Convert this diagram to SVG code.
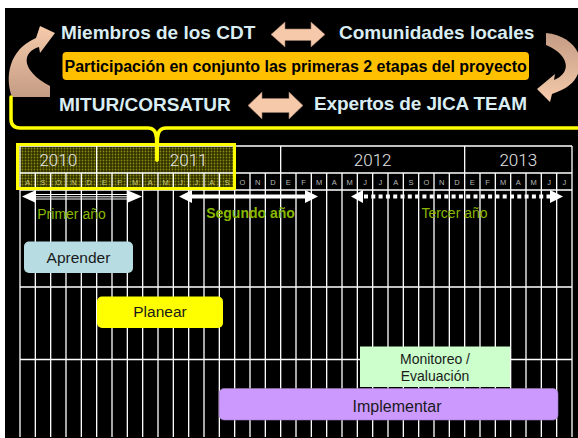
<svg xmlns="http://www.w3.org/2000/svg" width="578" height="438" viewBox="0 0 578 438">
<style>
.top{font-family:"Liberation Sans",Arial,sans-serif;font-weight:bold;font-size:19px;fill:#d9edf2}
.yr{font-family:Roboto,"Liberation Sans",sans-serif;font-weight:300;font-size:17px;fill:#e6e6e6;text-anchor:middle}
.mo{font-family:"Liberation Sans",Arial,sans-serif;font-size:7.5px;fill:#b8b8b8;text-anchor:middle}
.moh{fill:#c8c878}
.lbl{font-family:"Liberation Sans",Arial,sans-serif;font-size:14px;fill:#8ab800;text-anchor:middle}
.bar{font-family:"Liberation Sans",Arial,sans-serif;fill:#1a1a1a;text-anchor:middle}
.grid{stroke:#ffffff;stroke-width:1.3;fill:none}
.pa{fill:#f5c9aa;stroke:#9a7b68;stroke-width:0.6}
</style>
<defs>
<pattern id="dots" width="3" height="3" patternUnits="userSpaceOnUse">
<rect width="3" height="3" fill="#303000"/>
<circle cx="1.5" cy="1.5" r="0.9" fill="#8a8a10"/>
</pattern>
<linearGradient id="gL" x1="0" y1="0" x2="0" y2="1">
<stop offset="0" stop-color="#f6cbab"/>
<stop offset="1" stop-color="#c49c84"/>
</linearGradient>
<linearGradient id="gR" x1="0" y1="0" x2="0" y2="1">
<stop offset="0" stop-color="#c49c84"/>
<stop offset="1" stop-color="#f6cbab"/>
</linearGradient>
</defs>
<rect x="0" y="0" width="578" height="438" fill="#ffffff"/>
<rect x="5" y="8" width="573" height="430" fill="#000000"/>

<!-- top section -->
<g id="curved-left"><path d="M12,97 C5,78 8,50 36,38 L40,26 L55,33 L40,53 L39,47 C22,52 20,70 50,86 L50,97 Z" fill="url(#gL)"/></g>
<g id="curved-right"><path d="M546,33 C568,35 582,50 580,66 C578,80 570,88 552,94 L550,102 L537,89 L555,74 L554,80 C570,74 572,56 546,45 Z" fill="url(#gR)"/></g>
<g id="n-cdt"><text class="top" x="61" y="38.5">Miembros de los CDT</text></g>
<g id="n-com"><text class="top" x="339" y="38.5">Comunidades locales</text></g>
<g id="n-mitur"><text class="top" x="59" y="111">MITUR/CORSATUR</text></g>
<g id="n-jica"><text class="top" x="314" y="110" textLength="213">Expertos de JICA TEAM</text></g>
<g id="arrow-top"><polygon class="pa" points="271,34.5 285,22 285,29 311,29 311,22 325,34.5 311,47 311,40.5 285,40.5 285,47"/></g>
<g id="arrow-bottom"><polygon class="pa" points="248,105.5 262,92 262,98.5 289,98.5 289,92 303,105.5 289,119 289,112.5 262,112.5 262,119"/></g>
<g id="n-part">
<rect x="62.5" y="52" width="466.5" height="28" rx="4" fill="#ffc000"/>
<text x="295.7" y="71.5" font-family="Liberation Sans,Arial,sans-serif" font-weight="bold" font-size="16" fill="#000" text-anchor="middle">Participación en conjunto las primeras 2 etapas del proyecto</text>
</g>

<!-- highlight fill -->
<rect x="17.5" y="144.5" width="217" height="44" fill="url(#dots)"/>

<!-- grid -->
<g id="grid" class="grid">
<path d="M20,146 H572 M20,173 H572 M20,190 H572 M20,287 H572 M20,359.5 H572"/>
<path d="M20,146 V437 M572,146 V437 M96.67,146 V437 M280.67,146 V437 M464.67,146 V437"/>
<path d="M35.33,173 V437 M50.67,173 V437 M66,173 V437 M81.33,173 V437 M112,173 V437 M127.33,173 V437 M142.67,173 V437 M158,173 V437 M173.33,173 V437 M188.67,173 V437 M204,173 V437 M219.33,173 V437 M234.67,173 V437 M250,173 V437 M265.33,173 V437 M296,173 V437 M311.33,173 V437 M326.67,173 V437 M342,173 V437 M357.33,173 V437 M372.67,173 V437 M388,173 V437 M403.33,173 V437 M418.67,173 V437 M434,173 V437 M449.33,173 V437 M480,173 V437 M495.33,173 V437 M510.67,173 V437 M526,173 V437 M541.33,173 V437 M556.67,173 V437"/>
</g>

<!-- years -->
<g id="years">
<text class="yr" x="58.3" y="166" fill="#e8e8c8">2010</text>
<text class="yr" x="188.7" y="166">2011</text>
<text class="yr" x="372.7" y="166">2012</text>
<text class="yr" x="518.3" y="166">2013</text>
</g>
<g id="months">
<g class="mo moh">
<text x="27.67" y="185">A</text><text x="43" y="185">S</text><text x="58.33" y="185">O</text><text x="73.67" y="185">N</text><text x="89" y="185">D</text><text x="104.33" y="185">E</text><text x="119.67" y="185">F</text><text x="135" y="185">M</text><text x="150.33" y="185">A</text><text x="165.67" y="185">M</text><text x="181" y="185">J</text><text x="196.33" y="185">J</text><text x="211.67" y="185">A</text><text x="227" y="185">S</text>
</g>
<g class="mo">
<text x="242.33" y="185">O</text><text x="257.67" y="185">N</text><text x="273" y="185">D</text><text x="288.33" y="185">E</text><text x="303.67" y="185">F</text><text x="319" y="185">M</text><text x="334.33" y="185">A</text><text x="349.67" y="185">M</text><text x="365" y="185">J</text><text x="380.33" y="185">J</text><text x="395.67" y="185">A</text><text x="411" y="185">S</text><text x="426.33" y="185">O</text><text x="441.67" y="185">N</text><text x="457" y="185">D</text><text x="472.33" y="185">E</text><text x="487.67" y="185">F</text><text x="503" y="185">M</text><text x="518.33" y="185">A</text><text x="533.67" y="185">M</text><text x="549" y="185">J</text><text x="564.33" y="185">J</text>
</g>
</g>

<!-- highlight border and brace -->
<rect x="17.5" y="144.5" width="217" height="44" fill="none" stroke="#ffff00" stroke-width="3"/>
<g id="brace" fill="none" stroke="#ffff00" stroke-width="3.5" stroke-linecap="round">
<path d="M11,97 V119 Q11,128 20,128 H148 Q156,128 156.5,138 L157,160"/>
<path d="M157,160 L157.5,138 Q158,128 166,128 H580"/>
</g>

<!-- period arrows -->
<g id="connectors">
<g id="arrow-primer" fill="#ffffff">
<polygon points="22,196.5 35,190.5 35,202.5"/>
<polygon points="142,196.5 128,190.5 128,202.5"/>
<path d="M35,194.5 H128 M35,196.8 H128 M35,199 H128" stroke="#ffffff" stroke-width="1"/>
</g>
<g id="arrow-segundo" fill="#ffffff">
<polygon points="179,196.5 192,190 192,203"/>
<polygon points="318,196.5 305,190 305,203"/>
<rect x="191" y="194.5" width="115" height="4"/>
</g>
<g id="arrow-tercer" fill="#ffffff">
<polygon points="351,196.5 363,190 363,203"/>
<polygon points="563,196.5 550,190 550,203"/>
<line x1="364" y1="196.5" x2="550" y2="196.5" stroke="#ffffff" stroke-width="4" stroke-dasharray="4 3.3"/>
</g>
</g>
<text class="lbl" x="71.5" y="219">Primer año</text>
<text class="lbl" x="250.5" y="218" font-weight="bold">Segundo año</text>
<text class="lbl" x="454.5" y="218">Tercer año</text>

<!-- bars -->
<g id="n-aprender">
<rect x="24" y="241.5" width="109" height="31.5" rx="5" fill="#b7dde3"/>
<text class="bar" x="78.5" y="263" font-size="15.5">Aprender</text>
</g>
<g id="n-planear">
<rect x="97" y="296.5" width="126" height="31.5" rx="5" fill="#ffff00"/>
<text class="bar" x="160" y="317" font-size="15.5">Planear</text>
</g>
<g id="n-monitoreo">
<rect x="360" y="346.5" width="150" height="40.5" fill="#ccffcc"/>
<text class="bar" x="435" y="364" font-size="14">Monitoreo /</text>
<text class="bar" x="435" y="381" font-size="14">Evaluación</text>
</g>
<g id="n-implementar">
<rect x="219" y="388.5" width="339" height="31.5" rx="5" fill="#cc99ff" stroke="#9a7ab8" stroke-width="0.6"/>
<text class="bar" x="397" y="412" font-size="16">Implementar</text>
</g>
</svg>
